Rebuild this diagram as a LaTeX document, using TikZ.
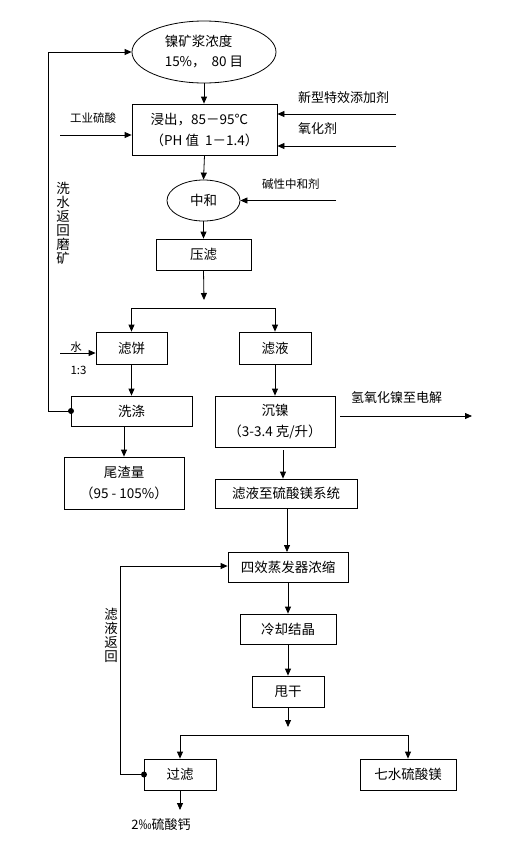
\documentclass[tikz,border=0pt]{standalone}
\usepackage{fontspec}
\setmainfont{Noto Sans CJK SC}
\usetikzlibrary{arrows.meta,shapes.geometric}
\tikzset{
  box/.style={draw, line width=0.8pt, rectangle, inner sep=0pt, align=center, font=\fontsize{13.5}{21}\selectfont},
  oval/.style={draw, line width=0.8pt, ellipse, inner sep=0pt, align=left, font=\fontsize{13.5}{20}\selectfont},
  lab/.style={inner sep=0pt, font=\fontsize{13}{14}\selectfont},
  slab/.style={inner sep=0pt, font=\fontsize{11.5}{13}\selectfont},
  vlab/.style={inner sep=0pt, align=center, font=\fontsize{13.5}{14}\selectfont},
  arr/.style={line width=0.8pt, -{Triangle[length=7pt,width=6pt]}},
  ln/.style={line width=0.8pt},
  dot/.style={circle, fill, inner sep=0pt, minimum size=6pt}
}
\begin{document}
\begin{tikzpicture}[x=1pt,y=-1pt]
\useasboundingbox (0,0) rectangle (505,854);
% nodes
\node[oval, minimum width=144, minimum height=62] (ore) at (204,52) {镍矿浆浓度\\15\%，\ \ 80 目};
\node[box, align=left, minimum width=145, minimum height=51] (leach) at (204.5,129.5) {浸出，85－95℃\\（PH 值\ \ 1－1.4）};
\node[oval, align=center, minimum width=73, minimum height=41] (zh) at (203.5,200.5) {中和};
\node[box, minimum width=95, minimum height=31] (yl) at (203.5,254.5) {压滤};
\node[box, minimum width=71, minimum height=32] (lb) at (131.5,348) {滤饼};
\node[box, minimum width=72, minimum height=32] (ly) at (275,348) {滤液};
\node[box, minimum width=121, minimum height=30] (xd) at (131.5,411) {洗涤};
\node[box, minimum width=120, minimum height=52] (wz) at (124,483) {尾渣量\\（95 - 105\%）};
\node[box, minimum width=120, minimum height=51] (cn) at (275,421.5) {沉镍\\（3-3.4 克/升）};
\node[box, minimum width=142, minimum height=29] (lys) at (286,493.5) {滤液至硫酸镁系统};
\node[box, minimum width=120, minimum height=30] (sx) at (288,567) {四效蒸发器浓缩};
\node[box, minimum width=96, minimum height=30] (lq) at (288,629) {冷却结晶};
\node[box, minimum width=72, minimum height=31] (sg) at (288,691.5) {甩干};
\node[box, minimum width=72, minimum height=31] (gl) at (180,774.5) {过滤};
\node[box, minimum width=96, minimum height=31] (qs) at (408,774.5) {七水硫酸镁};
% labels
\node[slab] (lgy) at (93,118) {工业硫酸};
\node[lab, anchor=west] (lxx) at (298,98) {新型特效添加剂};
\node[lab, anchor=west] (lyh) at (298,129) {氧化剂};
\node[slab, anchor=west] (ljx) at (262,184) {碱性中和剂};
\node[slab] (lshui) at (76,347) {水};
\node[slab] (lbi) at (78.5,370) {1:3};
\node[lab, anchor=west] (lqy) at (351,398) {氢氧化镍至电解};
\node[lab] (lca) at (161,825) {2‰硫酸钙};
\node[vlab] (lxs) at (63,223.5) {洗\\水\\返\\回\\磨\\矿};
\node[vlab] (lfh) at (111,635.5) {滤\\液\\返\\回};
% free ends
\coordinate (s1) at (60,135);
\coordinate (s2) at (396,114);
\coordinate (s3) at (396,146);
\coordinate (s4) at (336,200.5);
\coordinate (s5) at (60,353);
\coordinate (s6) at (340,416);
\coordinate (e6) at (472,416);
\coordinate (t1) at (204,300);
\coordinate (t2) at (288,727);
\coordinate (t3) at (180,810);
\coordinate (cx) at (283,450);
\coordinate (dx) at (71,411);
\coordinate (dg) at (144,774.5);
% main flow
\draw[arr] (ore.south) -- (ore.south |- leach.north);
\draw[arr] (leach.south) -- (zh.north);
\draw[arr] (zh.south) -- (yl.north);
\draw[arr] (yl.south) -- (t1);
\draw[ln] (lb.north |- 0,308) -- (ly.north |- 0,308);
\draw[arr] (lb.north |- 0,308) -- (lb.north);
\draw[arr] (ly.north |- 0,308) -- (ly.north);
\draw[arr] (lb.south) -- (lb.south |- xd.north);
\draw[arr] (124,426) -- (wz.north);
\draw[arr] (ly.south) -- (cn.north);
\draw[arr] (cx) -- (cx |- lys.north);
\draw[arr] (287,508) -- (287,552);
\draw[arr] (sx.south) -- (lq.north);
\draw[arr] (lq.south) -- (sg.north);
\draw[arr] (sg.south) -- (t2);
\draw[ln] (gl.north |- 0,735) -- (qs.north |- 0,735);
\draw[arr] (gl.north |- 0,735) -- (gl.north);
\draw[arr] (qs.north |- 0,735) -- (qs.north);
\draw[arr] (gl.south) -- (t3);
% side inputs
\draw[arr] (s1) -- (s1 -| leach.west);
\draw[arr] (s2) -- (s2 -| leach.east);
\draw[arr] (s3) -- (s3 -| leach.east);
\draw[arr] (s4) -- (zh.east);
\draw[arr] (s5) -- (s5 -| lb.west);
\draw[arr] (s6) -- (e6);
% return loops
\node[dot] at (dx) {};
\draw[arr] (dx) -- (48,411) -- (48,52) -- (ore.west);
\node[dot] at (dg) {};
\draw[arr] (dg) -- (120,774.5) -- (120,566) -- (120,566 -| sx.west);
\end{tikzpicture}
\end{document}
